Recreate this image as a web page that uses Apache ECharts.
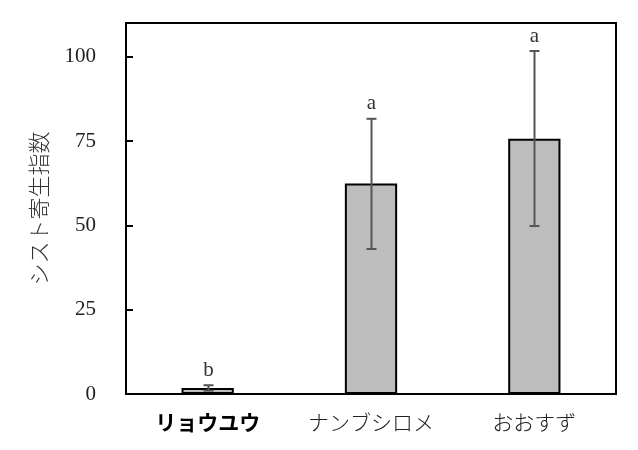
<!DOCTYPE html>
<html><head><meta charset="utf-8">
<script src="https://cdn.jsdelivr.net/npm/echarts@6/dist/echarts.min.js"></script>
<style>html,body{margin:0;padding:0;background:#fff}#c{width:638px;height:450px}</style>
</head><body><div id="c"></div>
<script>
const categories = ['リョウユウ', 'ナンブシロメ', 'おおすず'];
const means = [1.8, 62.4, 75.7];
const lower = [1.0, 43.0, 49.8];
const upper = [2.6, 81.6, 101.7];
const letters = ['b', 'a', 'a'];
const yTicks = [0, 25, 50, 75, 100];

const chart = echarts.init(document.getElementById('c'));
const serif = '"Liberation Serif","DejaVu Serif",serif';
const jp = '"Noto Sans CJK JP","Noto Sans CJK SC",sans-serif';
chart.setOption({
  animation: false,
  grid: { left: 126, top: 23, right: 22, bottom: 56, show: true, borderColor: '#000', borderWidth: 2, backgroundColor: 'transparent' },
  xAxis: {
    type: 'category', data: categories,
    axisLine: { lineStyle: { color: '#000', width: 2 } },
    axisTick: { show: false },
    axisLabel: {
      interval: 0, margin: 18, fontSize: 21, fontFamily: jp, color: '#222',
      formatter: (v, i) => i === 0 ? '{b|' + v + '}' : '{n|' + v + '}',
      rich: { b: { fontWeight: 'bold', fontSize: 21, fontFamily: jp, color: '#000' }, n: { fontWeight: 300, fontSize: 21, fontFamily: jp, color: '#222' } }
    }
  },
  yAxis: {
    type: 'value', min: 0, max: 110, interval: 25,
    name: 'シスト寄生指数', nameLocation: 'middle', nameGap: 76, nameRotate: 90,
    nameTextStyle: { fontSize: 22, fontFamily: jp, fontWeight: 300, color: '#333' },
    axisLine: { show: true, lineStyle: { color: '#000', width: 2 } },
    axisTick: { show: true, inside: true, length: 7, lineStyle: { color: '#000', width: 2 } },
    splitLine: { show: false },
    axisLabel: { margin: 30, fontSize: 21, fontFamily: serif, color: '#222',
      formatter: v => yTicks.indexOf(v) >= 0 ? String(v) : '' }
  },
  series: [
    {
      type: 'bar', data: means, barWidth: '32%',
      itemStyle: { color: '#bdbdbd', borderColor: '#000', borderWidth: 2 }
    },
    {
      type: 'custom', z: 10,
      data: categories.map((c, i) => [i, lower[i], upper[i]]),
      renderItem: (params, api) => {
        const i = api.value(0);
        const lo = api.coord([i, api.value(1)]);
        const hi = api.coord([i, api.value(2)]);
        const x = Math.round(lo[0]) + 0.5;
        const cap = 5;
        const st = { stroke: '#555', lineWidth: 2 };
        return {
          type: 'group',
          children: [
            { type: 'line', shape: { x1: x, y1: lo[1], x2: x, y2: hi[1] }, style: st },
            { type: 'line', shape: { x1: x - cap, y1: lo[1], x2: x + cap, y2: lo[1] }, style: st },
            { type: 'line', shape: { x1: x - cap, y1: hi[1], x2: x + cap, y2: hi[1] }, style: st },
            { type: 'text', x: x, y: hi[1] - 15, style: { text: letters[i], fontSize: 21, fontFamily: serif, fill: '#333', align: 'center', verticalAlign: 'middle' } }
          ]
        };
      }
    }
  ]
});
</script></body></html>
